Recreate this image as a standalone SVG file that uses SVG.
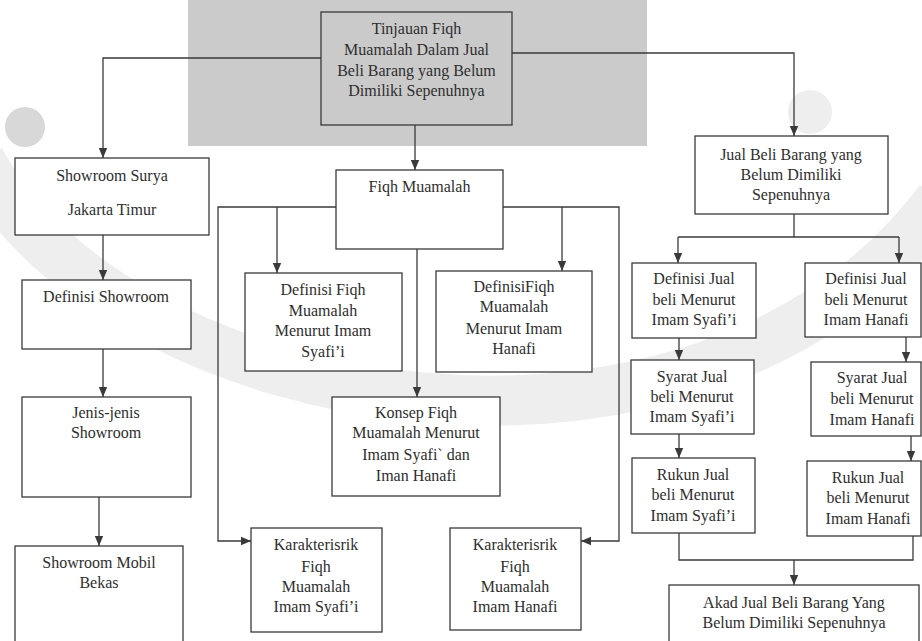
<svg xmlns="http://www.w3.org/2000/svg" width="922" height="641" viewBox="0 0 922 641" font-family="Liberation Serif, DejaVu Serif, serif">
<style>
.bx{fill:#ffffff;stroke:#3a3a3a;stroke-width:1.3}
.bxg{fill:#cacaca;stroke:#3a3a3a;stroke-width:1.3}
.t{font-size:16px;fill:#2e2e2e;text-anchor:middle}
.c{fill:none;stroke:#3a3a3a;stroke-width:1.3}
.ca{fill:none;stroke:#3a3a3a;stroke-width:1.3;marker-end:url(#ah)}
</style>
<defs>
<marker id="ah" markerUnits="userSpaceOnUse" markerWidth="10" markerHeight="10" viewBox="0 0 10 10" refX="10" refY="5" orient="auto">
<path d="M0,0.8 L10,5 L0,9.2 Z" fill="#3a3a3a"/>
</marker>
</defs>
<rect width="922" height="641" fill="#ffffff"/>
<g id="watermark">
<rect x="188" y="0" width="459" height="146" fill="#cbcbcb"/>
<path d="M-20,160 C120,420 700,520 940,200" fill="none" stroke="#eeeeee" stroke-width="50"/>
<circle cx="25" cy="127" r="20" fill="#d8d8d8"/>
<circle cx="810" cy="112" r="22" fill="#eeeeee"/>
</g>
<g id="connectors">
<path class="ca" d="M321,58 H103 V158"/>
<path class="ca" d="M512,53 H794 V136"/>
<path class="ca" d="M415,125 V170"/>
<path class="ca" d="M103,235 V280"/>
<path class="ca" d="M103,349 V397"/>
<path class="ca" d="M99,497 V546"/>
<path class="ca" d="M336,207 H218 V541 H251"/>
<path class="ca" d="M277,207 V273"/>
<path class="ca" d="M503,207 H619 V541 H581"/>
<path class="ca" d="M562,207 V271"/>
<path class="ca" d="M417,249 V397"/>
<path class="c" d="M794,214 V237"/>
<path class="c" d="M678,237 H899"/>
<path class="ca" d="M678,237 V263"/>
<path class="ca" d="M899,237 V263"/>
<path class="ca" d="M679,338 V360"/>
<path class="ca" d="M679,434 V458"/>
<path class="ca" d="M906,337 V362"/>
<path class="ca" d="M911,436 V461"/>
<path class="c" d="M679,533 V560 H913 V536"/>
<path class="ca" d="M794,560 V585"/>
</g>
<g id="n-top">
<rect class="bxg" x="321" y="12" width="191" height="113"/>
<text class="t" x="416.5" y="34">Tinjauan Fiqh</text>
<text class="t" x="416.5" y="55">Muamalah Dalam Jual</text>
<text class="t" x="416.5" y="76">Beli Barang yang Belum</text>
<text class="t" x="416.5" y="96">Dimiliki Sepenuhnya</text>
</g>
<g id="n-showroom-surya">
<rect class="bx" x="15" y="158" width="194" height="77"/>
<text class="t" x="112" y="181">Showroom Surya</text>
<text class="t" x="112" y="215">Jakarta Timur</text>
</g>
<g id="n-fiqh-muamalah">
<rect class="bx" x="336" y="170" width="167" height="79"/>
<text class="t" x="419.5" y="192">Fiqh Muamalah</text>
</g>
<g id="n-jual-beli">
<rect class="bx" x="695" y="136" width="193" height="78"/>
<text class="t" x="791" y="160">Jual Beli Barang yang</text>
<text class="t" x="791" y="180">Belum Dimiliki</text>
<text class="t" x="791" y="200">Sepenuhnya</text>
</g>
<g id="n-def-showroom">
<rect class="bx" x="22" y="280" width="169" height="69"/>
<text class="t" x="106" y="302">Definisi Showroom</text>
</g>
<g id="n-jenis">
<rect class="bx" x="22" y="397" width="169" height="100"/>
<text class="t" x="106" y="418">Jenis-jenis</text>
<text class="t" x="106" y="438">Showroom</text>
</g>
<g id="n-showroom-mobil">
<rect class="bx" x="15" y="546" width="168" height="105"/>
<text class="t" x="99" y="568">Showroom Mobil</text>
<text class="t" x="99" y="588">Bekas</text>
</g>
<g id="n-def-fiqh-syafii">
<rect class="bx" x="245" y="273" width="157" height="98"/>
<text class="t" x="323" y="295">Definisi Fiqh</text>
<text class="t" x="323" y="316">Muamalah</text>
<text class="t" x="323" y="336">Menurut Imam</text>
<text class="t" x="323" y="357">Syafi’i</text>
</g>
<g id="n-def-fiqh-hanafi">
<rect class="bx" x="436" y="271" width="156" height="101"/>
<text class="t" x="514" y="292">DefinisiFiqh</text>
<text class="t" x="514" y="312">Muamalah</text>
<text class="t" x="514" y="334">Menurut Imam</text>
<text class="t" x="514" y="354">Hanafi</text>
</g>
<g id="n-konsep">
<rect class="bx" x="332" y="397" width="168" height="99"/>
<text class="t" x="416" y="418">Konsep Fiqh</text>
<text class="t" x="416" y="438">Muamalah Menurut</text>
<text class="t" x="416" y="460">Imam Syafi` dan</text>
<text class="t" x="416" y="481">Iman Hanafi</text>
</g>
<g id="n-karak-syafii">
<rect class="bx" x="251" y="528" width="131" height="104"/>
<text class="t" x="316" y="550">Karakterisrik</text>
<text class="t" x="316" y="572">Fiqh</text>
<text class="t" x="316" y="592">Muamalah</text>
<text class="t" x="316" y="612">Imam Syafi’i</text>
</g>
<g id="n-karak-hanafi">
<rect class="bx" x="450" y="528" width="131" height="102"/>
<text class="t" x="515" y="550">Karakterisrik</text>
<text class="t" x="515" y="572">Fiqh</text>
<text class="t" x="515" y="592">Muamalah</text>
<text class="t" x="515" y="612">Imam Hanafi</text>
</g>
<g id="n-def-jual-syafii">
<rect class="bx" x="632" y="263" width="124" height="75"/>
<text class="t" x="694" y="284">Definisi Jual</text>
<text class="t" x="694" y="305">beli Menurut</text>
<text class="t" x="694" y="325">Imam Syafi’i</text>
</g>
<g id="n-def-jual-hanafi">
<rect class="bx" x="805" y="263" width="116" height="74"/>
<text class="t" x="866" y="284">Definisi Jual</text>
<text class="t" x="866" y="305">beli Menurut</text>
<text class="t" x="866" y="325">Imam Hanafi</text>
</g>
<g id="n-syarat-syafii">
<rect class="bx" x="631" y="360" width="123" height="74"/>
<text class="t" x="692" y="382">Syarat Jual</text>
<text class="t" x="692" y="402">beli Menurut</text>
<text class="t" x="692" y="422">Imam Syafi’i</text>
</g>
<g id="n-syarat-hanafi">
<rect class="bx" x="811" y="362" width="110" height="74"/>
<text class="t" x="872" y="383">Syarat Jual</text>
<text class="t" x="872" y="404">beli Menurut</text>
<text class="t" x="872" y="425">Imam Hanafi</text>
</g>
<g id="n-rukun-syafii">
<rect class="bx" x="632" y="458" width="123" height="75"/>
<text class="t" x="693" y="480">Rukun Jual</text>
<text class="t" x="693" y="500">beli Menurut</text>
<text class="t" x="693" y="521">Imam Syafi’i</text>
</g>
<g id="n-rukun-hanafi">
<rect class="bx" x="807" y="461" width="114" height="75"/>
<text class="t" x="868" y="483">Rukun Jual</text>
<text class="t" x="868" y="503">beli Menurut</text>
<text class="t" x="868" y="524">Imam Hanafi</text>
</g>
<g id="n-akad">
<rect class="bx" x="669" y="585" width="250" height="66"/>
<text class="t" x="794" y="608">Akad Jual Beli Barang Yang</text>
<text class="t" x="794" y="628">Belum Dimiliki Sepenuhnya</text>
</g>
</svg>
